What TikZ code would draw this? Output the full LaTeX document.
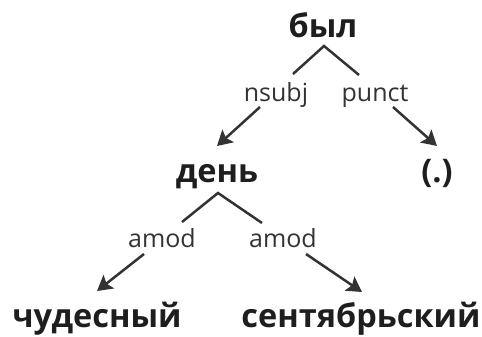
\documentclass[tikz,border=0pt]{standalone}
\usepackage{fontspec}
\setmainfont{Open Sans}
\usetikzlibrary{arrows.meta}
\definecolor{wordc}{HTML}{1E1E1E}
\definecolor{lblc}{HTML}{333333}
\definecolor{edgec}{HTML}{333333}
\tikzset{
  word/.style={anchor=base, inner sep=0pt, text=wordc, font=\fontsize{32.5pt}{38pt}\selectfont\bfseries},
  lbl/.style={anchor=base, inner sep=0pt, text=lblc, font=\fontsize{25pt}{30pt}\selectfont},
  edge/.style={draw=edgec, line width=2.5pt},
  arr/.style={draw=edgec, line width=2.5pt, -{Stealth[length=15pt,width=17pt,inset=3pt]}},
}
\begin{document}
\begin{tikzpicture}[x=1pt,y=-1pt]
\useasboundingbox (0,0) rectangle (482,337);
\node[word] (byl) at (323,38) {был};
\node[lbl] (nsubj) at (276,101) {nsubj};
\node[lbl] (punct) at (375,101) {punct};
\node[word] (den) at (217,182) {день};
\node[word] (dot) at (437,182) {(.)};
\node[lbl] (amod1) at (162,247) {amod};
\node[lbl] (amod2) at (283,247) {amod};
\node[word] (chud) at (97,327) {чудесный};
\node[word] (sent) at (361,327) {сентябрьский};
\coordinate (ap1) at ([shift={(1,8)}]byl.base);
\coordinate (ap2) at ([shift={(1,11)}]den.base);
\draw[edge] ([shift={(17,-27)}]nsubj.base) -- (ap1) -- ([shift={(-16,-26)}]punct.base);
\draw[arr] ([shift={(-16,6)}]nsubj.base) -- ([shift={(0,-36)}]den.base);
\draw[arr] ([shift={(18,6)}]punct.base) -- ([shift={(0,-36)}]dot.base);
\draw[edge] ([shift={(20,-25)}]amod1.base) -- (ap2) -- ([shift={(-21,-24)}]amod2.base);
\draw[arr] ([shift={(-18,7)}]amod1.base) -- ([shift={(0,-36)}]chud.base);
\draw[arr] ([shift={(23,7)}]amod2.base) -- ([shift={(1,-35)}]sent.base);
\end{tikzpicture}
\end{document}
